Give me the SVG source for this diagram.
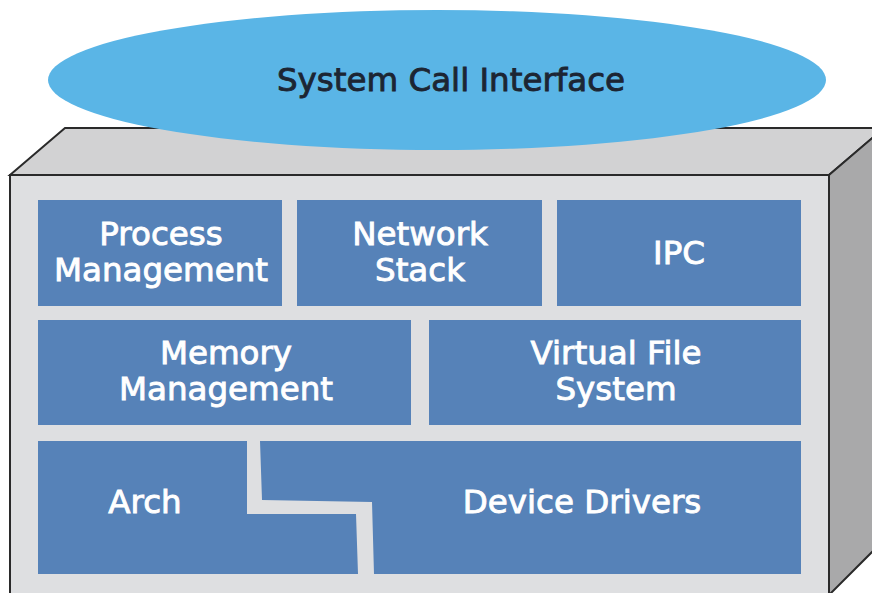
<svg xmlns="http://www.w3.org/2000/svg" width="872" height="593" viewBox="0 0 872 593">
<style>
.blk{fill:#5682b8}
.lbl{font-family:"DejaVu Sans",sans-serif;font-size:32.5px;fill:#ffffff;stroke:#ffffff;stroke-width:0.9;text-anchor:middle}
.hdr{font-family:"DejaVu Sans",sans-serif;font-size:32.5px;fill:#1c2533;stroke:#1c2533;stroke-width:0.9;text-anchor:middle}
.edge{stroke:#2a2a2a;stroke-width:2;stroke-linejoin:miter}
</style>
<rect width="872" height="593" fill="#ffffff"/>
<g id="box">
<polygon class="edge" points="10,175 65,128 884,128 829,175" fill="#d2d2d3"/>
<polygon class="edge" points="829,175 884,128 884,540 829,595" fill="#a9a9aa"/>
<rect class="edge" x="10" y="175" width="819" height="430" fill="#dedfe1"/>
</g>
<g id="syscall">
<ellipse cx="437" cy="80" rx="389" ry="70" fill="#5ab5e6"/>
<text class="hdr" x="451" y="91">System Call Interface</text>
</g>
<g id="process">
<rect class="blk" x="38" y="200" width="244" height="106"/>
<text class="lbl" x="161" y="245">Process</text>
<text class="lbl" x="161" y="281">Management</text>
</g>
<g id="network">
<rect class="blk" x="297" y="200" width="245" height="106"/>
<text class="lbl" x="420" y="245">Network</text>
<text class="lbl" x="420" y="281">Stack</text>
</g>
<g id="ipc">
<rect class="blk" x="557" y="200" width="244" height="106"/>
<text class="lbl" x="679" y="264">IPC</text>
</g>
<g id="memory">
<rect class="blk" x="38" y="320" width="373" height="105"/>
<text class="lbl" x="226" y="364">Memory</text>
<text class="lbl" x="226" y="400">Management</text>
</g>
<g id="vfs">
<rect class="blk" x="429" y="320" width="372" height="105"/>
<text class="lbl" x="616" y="364">Virtual File</text>
<text class="lbl" x="616" y="400">System</text>
</g>
<g id="arch">
<polygon class="blk" points="38,441 247,441 247,514 356,514 358,574 38,574"/>
<text class="lbl" x="145" y="513">Arch</text>
</g>
<g id="drivers">
<polygon class="blk" points="260,441 801,441 801,574 374,574 372,502 262,500"/>
<text class="lbl" x="582" y="513">Device Drivers</text>
</g>
<g id="connectors"></g>
</svg>
